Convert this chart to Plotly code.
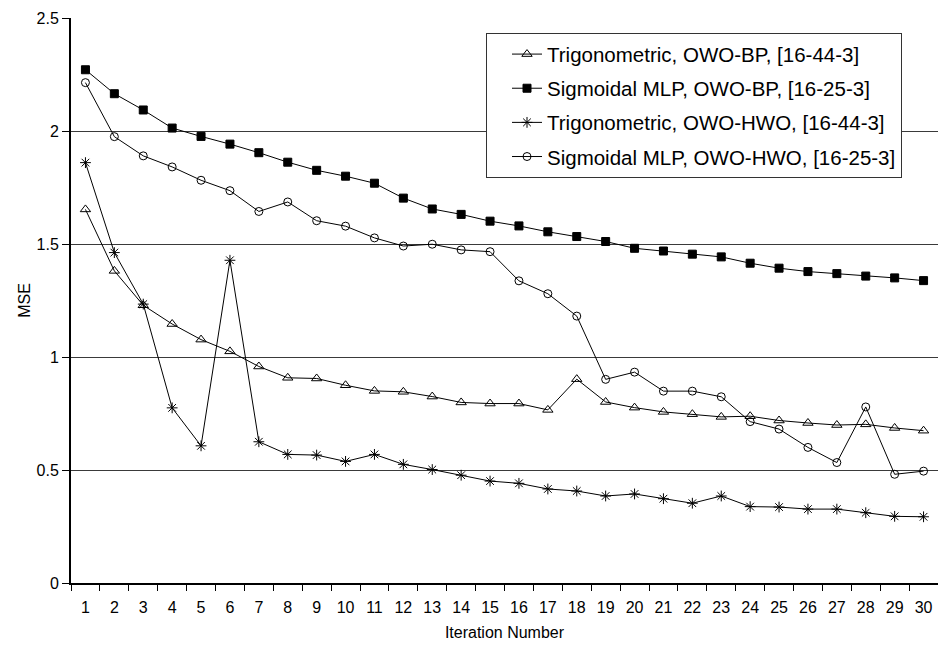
import plotly.graph_objects as go

iterations = [str(i) for i in range(1, 31)]

trig_owo_bp = [1.653, 1.381, 1.229, 1.146, 1.077, 1.025, 0.958, 0.908, 0.905, 0.875,
               0.850, 0.846, 0.825, 0.799, 0.794, 0.794, 0.766, 0.902, 0.801, 0.776,
               0.757, 0.747, 0.735, 0.738, 0.719, 0.708, 0.699, 0.702, 0.686, 0.674]

sig_owo_bp = [2.271, 2.165, 2.093, 2.013, 1.976, 1.942, 1.904, 1.862, 1.826, 1.800,
              1.769, 1.703, 1.655, 1.631, 1.601, 1.580, 1.554, 1.533, 1.511, 1.481,
              1.469, 1.455, 1.443, 1.415, 1.393, 1.378, 1.369, 1.358, 1.350, 1.338]

trig_owo_hwo = [1.860, 1.462, 1.234, 0.775, 0.607, 1.428, 0.625, 0.569, 0.566, 0.538,
                0.569, 0.525, 0.502, 0.477, 0.451, 0.441, 0.416, 0.407, 0.385, 0.394,
                0.373, 0.353, 0.385, 0.338, 0.336, 0.327, 0.327, 0.311, 0.295, 0.293]

sig_owo_hwo = [2.214, 1.975, 1.890, 1.841, 1.782, 1.736, 1.644, 1.686, 1.603, 1.579,
               1.527, 1.491, 1.499, 1.474, 1.466, 1.337, 1.280, 1.181, 0.901, 0.933,
               0.849, 0.849, 0.824, 0.714, 0.681, 0.600, 0.533, 0.779, 0.481, 0.495]

y_ticks = [0, 0.5, 1, 1.5, 2, 2.5]
y_tick_text = ["0", "0.5", "1", "1.5", "2", "2.5"]

series = [
    ("Trigonometric, OWO-BP, [16-44-3]", trig_owo_bp, "triangle-up-open", 9),
    ("Sigmoidal MLP, OWO-BP, [16-25-3]", sig_owo_bp, "square", 8),
    ("Trigonometric, OWO-HWO, [16-44-3]", trig_owo_hwo, "asterisk-open", 9),
    ("Sigmoidal MLP, OWO-HWO, [16-25-3]", sig_owo_hwo, "circle-open", 8),
]

FONT = "Liberation Sans, Arial, sans-serif"

fig = go.Figure()
for i, (name, vals, sym, sz) in enumerate(series):
    fig.add_trace(go.Scatter(
        x=iterations, y=vals, name=name, mode="lines+markers",
        legendgroup=f"g{i}",
        line=dict(color="black", width=1),
        marker=dict(symbol=sym, size=sz, color="black",
                    line=dict(color="black", width=1)),
    ))

fig.update_layout(
    width=938, height=645,
    margin=dict(l=71, r=0, t=18, b=62),
    paper_bgcolor="white", plot_bgcolor="white",
    font=dict(family=FONT, size=16, color="black"),
    showlegend=True,
    legend=dict(
        x=(486 - 71) / 867, xanchor="left", y=0.973, yanchor="top",
        bgcolor="white", bordercolor="#333333", borderwidth=1,
        font=dict(family=FONT, size=20.5, color="black"),
        traceorder="grouped", tracegroupgap=4.5,
        indentation=20,
    ),
)

fig.update_xaxes(
    type="category", range=[-0.5, 29.5],
    tickson="boundaries", ticks="outside", ticklen=6, tickcolor="black",
    ticklabelstandoff=9,
    showline=True, linecolor="black", linewidth=2,
    showgrid=False,
    tickfont=dict(size=16),
    title=dict(text="Iteration Number", font=dict(size=16), standoff=12),
)

fig.update_yaxes(
    range=[0, 2.5],
    tickvals=y_ticks, ticktext=y_tick_text,
    ticks="outside", ticklen=7, tickcolor="black",
    showline=True, linecolor="black", linewidth=2,
    showgrid=True, gridcolor="#3a3a3a", gridwidth=1,
    zeroline=False,
    tickfont=dict(size=16),
    title=dict(text="MSE", font=dict(size=16), standoff=2),
)

fig.write_html("out.html")
